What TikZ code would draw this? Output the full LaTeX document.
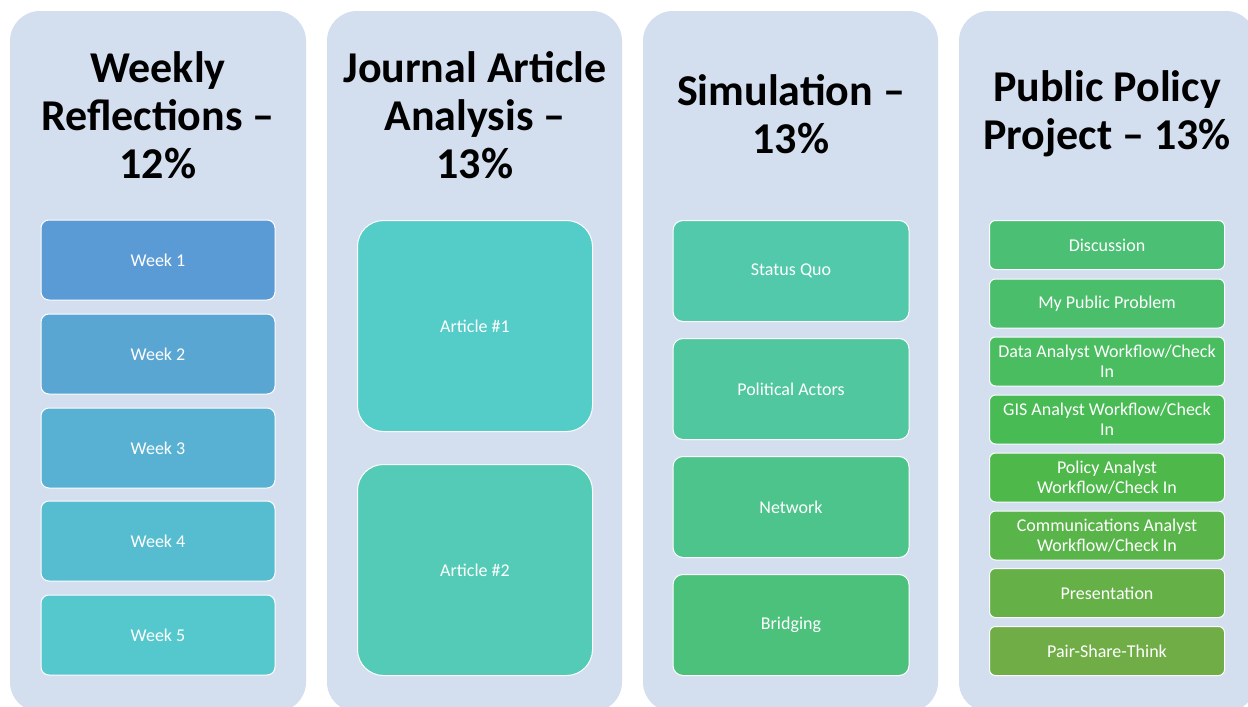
\documentclass[tikz,border=0pt]{standalone}
\usepackage{fontspec}
\setmainfont{Carlito}
\definecolor{colbg}{RGB}{211,222,239}
\definecolor{wk1}{RGB}{91,155,213}
\definecolor{wk2}{RGB}{89,166,211}
\definecolor{wk3}{RGB}{88,177,210}
\definecolor{wk4}{RGB}{86,189,208}
\definecolor{wk5}{RGB}{85,200,206}
\definecolor{ar1}{RGB}{84,204,199}
\definecolor{ar2}{RGB}{83,203,182}
\definecolor{sm1}{RGB}{82,201,171}
\definecolor{sm2}{RGB}{80,199,158}
\definecolor{sm3}{RGB}{78,196,141}
\definecolor{sm4}{RGB}{76,193,124}
\definecolor{pp1}{RGB}{75,192,116}
\definecolor{pp2}{RGB}{74,190,106}
\definecolor{pp3}{RGB}{73,189,96}
\definecolor{pp4}{RGB}{72,187,84}
\definecolor{pp5}{RGB}{78,184,74}
\definecolor{pp6}{RGB}{89,181,73}
\definecolor{pp7}{RGB}{101,177,72}
\definecolor{pp8}{RGB}{112,173,71}
\tikzset{
  column/.style={fill=colbg, draw=none, rounded corners=30pt},
  title/.style={font=\fontsize{44}{48}\selectfont\bfseries, align=center, text=black},
  item/.style={draw=white, line width=1pt, rounded corners=8pt, text=white,
    font=\fontsize{18}{20}\selectfont, align=center, inner sep=0pt},
}
\begin{document}
\begin{tikzpicture}[x=1pt,y=-1pt]
\useasboundingbox (0,0) rectangle (1248,707);
\fill[white] (0,0) rectangle (1248,707);
\begin{scope}
\clip (0,0) rectangle (1248,707);
\fill[column] (10,11) rectangle (306,712);
\fill[column] (327,11) rectangle (622,712);
\fill[column] (643,11) rectangle (938,712);
\fill[column] (959,11) rectangle (1256,712);
\end{scope}
% titles
\node[title] (t1) at (158,115) {Weekly\\Reflections –\\12\%};
\node[title] (t2) at (475,115) {Journal Article\\Analysis –\\13\%};
\node[title] (t3) at (791,114) {Simulation –\\13\%};
\node[title] (t4) at (1107,114) {Public Policy\\Project – 13\%};
% column 1
\tikzset{wk/.style={item, minimum width=234pt, minimum height=80pt}}
\node[wk, fill=wk1] (w1) at (158,260) {Week 1};
\node[wk, fill=wk2] (w2) at (158,354) {Week 2};
\node[wk, fill=wk3] (w3) at (158,448) {Week 3};
\node[wk, fill=wk4] (w4) at (158,541) {Week 4};
\node[wk, fill=wk5] (w5) at (158,635) {Week 5};
% column 2
\tikzset{art/.style={item, rounded corners=26pt, minimum width=235pt, minimum height=211pt}}
\node[art, fill=ar1] (a1) at (475,326) {Article \#1};
\node[art, fill=ar2] (a2) at (475,570) {Article \#2};
% column 3
\tikzset{sim/.style={item, rounded corners=10pt, minimum width=236pt, minimum height=101pt}}
\node[sim, fill=sm1] (s1) at (791,271) {Status Quo};
\node[sim, fill=sm2] (s2) at (791,389) {Political Actors};
\node[sim, fill=sm3] (s3) at (791,507) {Network};
\node[sim, fill=sm4] (s4) at (791,625) {Bridging};
% column 4
\tikzset{pp/.style={item, rounded corners=6pt, minimum width=235pt, minimum height=49pt}}
\node[pp, fill=pp1] (p1) at (1107,245) {Discussion};
\node[pp, fill=pp2] (p2) at (1107,303.5) {My Public Problem};
\node[pp, fill=pp3] (p3) at (1107,361.5) {Data Analyst Workflow/Check\\In};
\node[pp, fill=pp4] (p4) at (1107,419.5) {GIS Analyst Workflow/Check\\In};
\node[pp, fill=pp5] (p5) at (1107,477.5) {Policy Analyst\\Workflow/Check In};
\node[pp, fill=pp6] (p6) at (1107,535.5) {Communications Analyst\\Workflow/Check In};
\node[pp, fill=pp7] (p7) at (1107,593) {Presentation};
\node[pp, fill=pp8] (p8) at (1107,651) {Pair-Share-Think};
\end{tikzpicture}
\end{document}
